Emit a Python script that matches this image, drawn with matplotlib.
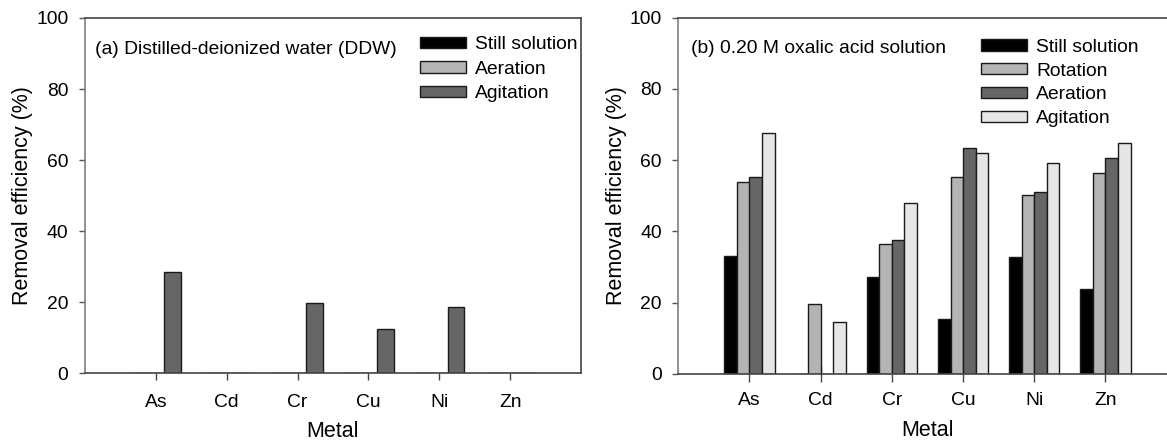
import matplotlib
matplotlib.use("Agg")
import matplotlib.pyplot as plt
import numpy as np

plt.rcParams['font.family'] = ['Liberation Sans', 'DejaVu Sans']

metals = ["As", "Cd", "Cr", "Cu", "Ni", "Zn"]

# Panel (a): distilled-deionized water
ddw_labels = ["Still solution", "Aeration", "Agitation"]
ddw_still = [0, 0, 0, 0, 0, 0]
ddw_aeration = [0, 0, 0, 0, 0, 0]
ddw_agitation = [28.4, 0, 19.9, 12.4, 18.7, 0]

# Panel (b): 0.20 M oxalic acid solution
ox_labels = ["Still solution", "Rotation", "Aeration", "Agitation"]
ox_still = [33.1, 0, 27.3, 15.5, 32.7, 23.9]
ox_rotation = [53.8, 19.6, 36.5, 55.3, 50.1, 56.3]
ox_aeration = [55.3, 0, 37.5, 63.3, 51.0, 60.5]
ox_agitation = [67.7, 14.7, 47.9, 61.9, 59.1, 64.9]

FS = 13.9
W, H = 1167, 443
fig = plt.figure(figsize=(W / 100, H / 100), dpi=100)

ax1 = fig.add_axes([85 / W, 1 - 373.3 / H, 496 / W, 355.3 / H])
ax2 = fig.add_axes([678.3 / W, 1 - 374 / H, 498.4 / W, 356.5 / H])

x = np.arange(1, len(metals) + 1)


def style(ax, xdir, xlen, xpad, lpad):
    ax.set_xlim(0, 7)
    ax.set_ylim(0, 100)
    ax.set_xticks(x)
    ax.set_xticklabels(metals, fontsize=FS)
    ax.set_yticks([0, 20, 40, 60, 80, 100])
    ax.tick_params(axis='y', direction='out', length=4, width=1, pad=8,
                   labelsize=FS, color='#555555')
    ax.tick_params(axis='x', direction=xdir, length=xlen, width=1, pad=xpad,
                   labelsize=FS, color='#444444')
    for s in ['top', 'bottom', 'right']:
        ax.spines[s].set_color('#444444')
        ax.spines[s].set_linewidth(1.2)
    ax.spines['left'].set_color('#808080')
    ax.spines['left'].set_linewidth(1.2)
    ax.set_ylabel("Removal efficiency (%)", fontsize=15.5, labelpad=2)
    ax.set_xlabel("Metal", fontsize=15.5, labelpad=lpad)


# Panel (a)
w1 = 0.236
cols1 = ['#000000', '#b4b4b4', '#666666']
for i, (vals, lab, c) in enumerate(zip([ddw_still, ddw_aeration, ddw_agitation],
                                        ddw_labels, cols1)):
    ax1.bar(x + (i - 1) * w1, vals, w1, color=c, edgecolor='#1a1a1a',
            linewidth=1, label=lab, zorder=2)
style(ax1, 'out', 5, 10, 7)
ax1.text(0.021, 0.91, "(a) Distilled-deionized water (DDW)", transform=ax1.transAxes,
         fontsize=FS, va='center', ha='left')
ax1.legend(loc='upper left', bbox_to_anchor=(0.675, 0.948), frameon=False,
           fontsize=FS, handlelength=2.37, handleheight=0.53, handletextpad=0.5,
           labelspacing=0.38, borderpad=0, borderaxespad=0)

# Panel (b)
w2 = 0.176
cols2 = ['#000000', '#b4b4b4', '#666666', '#e6e6e6']
for i, (vals, lab, c) in enumerate(zip([ox_still, ox_rotation, ox_aeration, ox_agitation],
                                        ox_labels, cols2)):
    ax2.bar(x + (i - 1.5) * w2, vals, w2, color=c, edgecolor='#1a1a1a',
            linewidth=1, label=lab, zorder=2)
style(ax2, 'inout', 12, 7, 8)
ax2.text(0.0245, 0.913, "(b) 0.20 M oxalic acid solution", transform=ax2.transAxes,
         fontsize=FS, va='center', ha='left')
ax2.legend(loc='upper left', bbox_to_anchor=(0.607, 0.94), frameon=False,
           fontsize=FS, handlelength=2.37, handleheight=0.53, handletextpad=0.5,
           labelspacing=0.35, borderpad=0, borderaxespad=0)

fig.savefig("out.png", dpi=100)
